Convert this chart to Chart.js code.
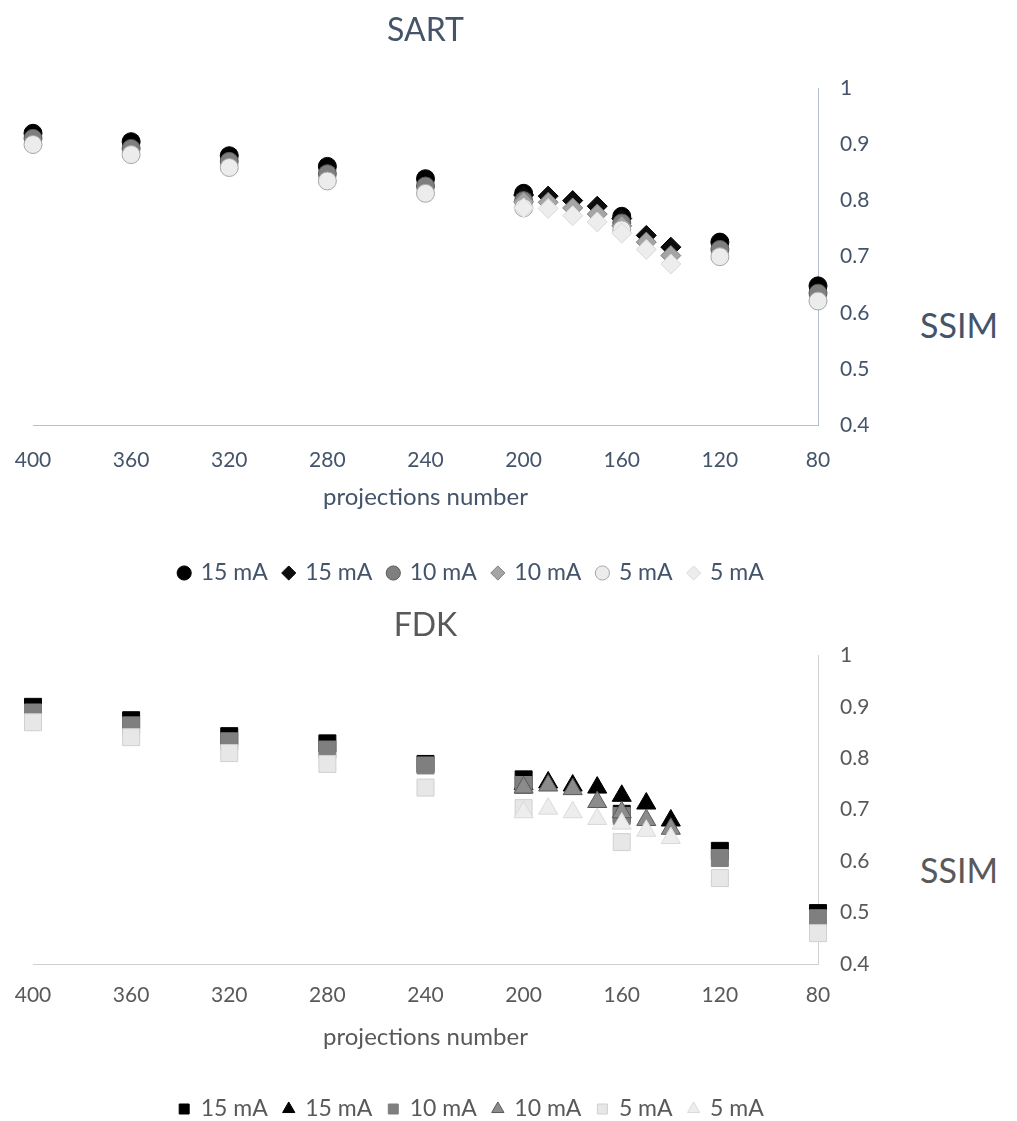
<!DOCTYPE html>
<html>
<head>
<meta charset="utf-8">
<script src="https://cdn.jsdelivr.net/npm/chart.js@4"></script>
<style>
  body { margin: 0; background: #fff; width: 1017px; height: 1121px; position: relative; overflow: hidden; font-family: Lato, sans-serif; }
  .box { position: absolute; left: 0; width: 910px; }
  #box1 { top: 0; height: 600px; }
  #box2 { top: 600px; height: 536px; }
  .ssim { position: absolute; left: 920px; font-size: 34px; line-height: 40px; }
  #ssim1 { top: 305px; color: #44546a; }
  #ssim2 { top: 850px; color: #595959; }
</style>
</head>
<body>
<div class="box" id="box1"><canvas id="sart"></canvas></div>
<div class="box" id="box2"><canvas id="fdk"></canvas></div>
<div class="ssim" id="ssim1">SSIM</div>
<div class="ssim" id="ssim2">SSIM</div>
<script>
// axis ticks
const xTicks = [400, 360, 320, 280, 240, 200, 160, 120, 80];
const yTicks = [0.4, 0.5, 0.6, 0.7, 0.8, 0.9, 1];

// SART - circles at every step, diamonds in the 200..140 range
const sartCircleX = [400, 360, 320, 280, 240, 200, 160, 120, 80];
const sartCircle15 = [0.920, 0.905, 0.880, 0.861, 0.839, 0.813, 0.772, 0.726, 0.648];
const sartCircle10 = [0.911, 0.893, 0.870, 0.848, 0.826, 0.800, 0.760, 0.713, 0.635];
const sartCircle5  = [0.900, 0.882, 0.859, 0.835, 0.813, 0.787, 0.748, 0.700, 0.621];
const sartDiamondX = [200, 190, 180, 170, 160, 150, 140];
const sartDiamond15 = [0.810, 0.808, 0.800, 0.790, 0.768, 0.738, 0.717];
const sartDiamond10 = [0.798, 0.797, 0.787, 0.776, 0.755, 0.726, 0.702];
const sartDiamond5  = [0.787, 0.786, 0.773, 0.762, 0.742, 0.713, 0.687];

// FDK - squares at every step, triangles in the 200..140 range
const fdkSquareX = [400, 360, 320, 280, 240, 200, 160, 120, 80];
const fdkSquare15 = [0.900, 0.874, 0.843, 0.829, 0.789, 0.759, 0.692, 0.620, 0.499];
const fdkSquare10 = [0.889, 0.864, 0.833, 0.817, 0.786, 0.748, 0.688, 0.606, 0.489];
const fdkSquare5  = [0.870, 0.841, 0.810, 0.789, 0.743, 0.703, 0.637, 0.567, 0.460];
const fdkTriangleX = [200, 190, 180, 170, 160, 150, 140];
const fdkTriangle15 = [0.750, 0.753, 0.747, 0.743, 0.727, 0.712, 0.679];
const fdkTriangle10 = [0.743, 0.747, 0.740, 0.715, 0.695, 0.680, 0.663];
const fdkTriangle5  = [0.695, 0.702, 0.695, 0.682, 0.673, 0.659, 0.645];

function pts(xs, ys) {
  return xs.map((x, i) => ({ x: x, y: ys[i] }));
}

function ds(label, xs, ys, shape, radius, fill, edge, i) {
  return {
    label: label,
    data: pts(xs, ys),
    pointStyle: shape,
    pointRadius: radius,
    pointHoverRadius: radius,
    pointBackgroundColor: fill,
    pointBorderColor: edge,
    backgroundColor: fill,
    borderColor: edge,
    pointBorderWidth: 1,
    borderWidth: 1,
    showLine: false,
    clip: false,
    order: 6 - i   // later series drawn on top, like the original
  };
}

function makeChart(id, title, datasets, c) {
  return new Chart(document.getElementById(id), {
    type: 'scatter',
    data: { datasets: datasets },
    options: {
      responsive: true,
      maintainAspectRatio: false,
      animation: false,
      layout: { padding: { left: 33, right: 0, top: 0, bottom: c.padBottom } },
      plugins: {
        title: {
          display: true,
          text: title,
          fullSize: false,
          color: c.text,
          font: { family: 'Lato', size: 32, weight: 'normal' },
          padding: { top: c.titleTop, bottom: c.titleBottom }
        },
        legend: {
          position: 'bottom',
          labels: {
            usePointStyle: true,
            boxWidth: 10,
            boxHeight: 10,
            padding: 16,
            color: c.text,
            font: { family: 'Lato', size: 23 },
            sort: (a, b) => a.datasetIndex - b.datasetIndex
          }
        },
        tooltip: { enabled: false }
      },
      scales: {
        x: {
          type: 'linear',
          reverse: true,
          min: 80,
          max: 400,
          afterBuildTicks: s => { s.ticks = xTicks.map(v => ({ value: v })); },
          // fixed height, and no extra room for the edge labels
          afterFit: s => { s.height = c.xHeight; s.paddingLeft = 0; s.paddingRight = 0; },
          grid: { display: false, drawTicks: false },
          border: { display: true, color: c.axis, width: 1 },
          ticks: { color: c.text, padding: c.xPad, font: { family: 'Lato', size: 21 }, maxRotation: 0 },
          title: {
            display: true,
            text: 'projections number',
            color: c.text,
            font: { family: 'Lato', size: 24 },
            padding: { top: 0, bottom: c.xTitleBottom }
          }
        },
        y: {
          position: 'right',
          min: 0.4,
          max: 1,
          afterBuildTicks: s => { s.ticks = yTicks.map(v => ({ value: v })); },
          afterFit: s => { s.width = 92; },
          grid: { display: false, drawTicks: false },
          border: { display: true, color: c.axis, width: 1 },
          ticks: {
            color: c.text,
            padding: 22,
            font: { family: 'Lato', size: 21 },
            callback: v => String(Math.round(v * 10) / 10)
          }
        }
      }
    }
  });
}

makeChart('sart', 'SART', [
  ds('15 mA', sartCircleX, sartCircle15, 'circle', 9, '#000000', '#000000', 0),
  ds('15 mA', sartDiamondX, sartDiamond15, 'rectRot', 10, '#0d0d0d', '#000000', 1),
  ds('10 mA', sartCircleX, sartCircle10, 'circle', 9, '#7f7f7f', '#595959', 2),
  ds('10 mA', sartDiamondX, sartDiamond10, 'rectRot', 10, '#a5a5a5', '#7f7f7f', 3),
  ds('5 mA', sartCircleX, sartCircle5, 'circle', 9, '#ececec', '#a6a6a6', 4),
  ds('5 mA', sartDiamondX, sartDiamond5, 'rectRot', 10, '#ededed', '#d9d9d9', 5)
], {
  text: '#44546a', axis: '#b4c0d2',
  titleTop: 11, titleBottom: 39, padBottom: 5.5,
  xHeight: 120.5, xPad: 23, xTitleBottom: 34
});

makeChart('fdk', 'FDK', [
  ds('15 mA', fdkSquareX, fdkSquare15, 'rect', 12, '#000000', '#000000', 0),
  ds('15 mA', fdkTriangleX, fdkTriangle15, 'triangle', 11, '#000000', '#000000', 1),
  ds('10 mA', fdkSquareX, fdkSquare10, 'rect', 12, '#7f7f7f', '#7f7f7f', 2),
  ds('10 mA', fdkTriangleX, fdkTriangle10, 'triangle', 11, '#8c8c8c', '#595959', 3),
  ds('5 mA', fdkSquareX, fdkSquare5, 'rect', 12, '#e7e7e7', '#d0d0d0', 4),
  ds('5 mA', fdkTriangleX, fdkTriangle5, 'triangle', 11, '#ededed', '#dadada', 5)
], {
  text: '#595959', axis: '#d0d0d0',
  titleTop: 6, titleBottom: 11, padBottom: 5.5,
  xHeight: 117.5, xPad: 19, xTitleBottom: 30
});
</script>
</body>
</html>
